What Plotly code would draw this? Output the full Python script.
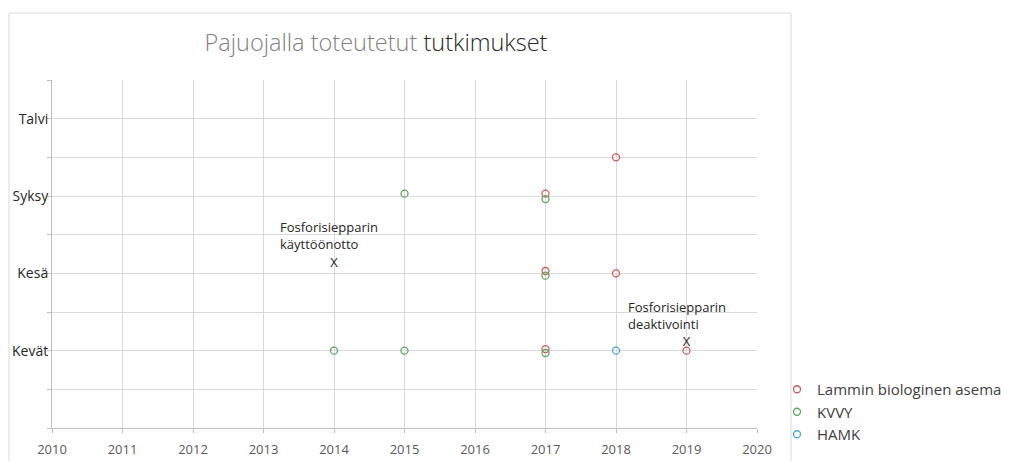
import plotly.graph_objects as go

# Data
season_vals = [1, 2, 3, 4]
season_labels = ["Kevät", "Kesä", "Syksy", "Talvi"]

lammi_years = [2017, 2017, 2017, 2018, 2018, 2019]
lammi_levels = [3.03, 2.03, 1.02, 3.5, 2.0, 1.0]

kvvy_years = [2014, 2015, 2015, 2017, 2017, 2017]
kvvy_levels = [1.0, 1.0, 3.03, 2.96, 1.97, 0.97]

hamk_years = [2018]
hamk_levels = [1.0]

event_years = [2014, 2019]
event_levels = [2.13, 1.1]
event_labels = ["Fosforisiepparin<br>käyttöönotto", "Fosforisiepparin<br>deaktivointi"]
event_shift = [-56, -61]

FONT = "Open Sans"

fig = go.Figure()

def add_series(name, xs, ys, color):
    fig.add_trace(go.Scatter(
        x=xs, y=ys, mode="markers", name=name,
        marker=dict(symbol="circle-open", size=7, color=color, line=dict(width=1.3, color=color)),
    ))

add_series("Lammin biologinen asema", lammi_years, lammi_levels, "#d05a5a")
add_series("KVVY", kvvy_years, kvvy_levels, "#5aa65a")
add_series("HAMK", hamk_years, hamk_levels, "#4aa8d8")

fig.add_trace(go.Scatter(
    x=event_years, y=event_levels, mode="text", text=["X"] * len(event_years),
    textfont=dict(family=FONT, size=13, color="#262626"), showlegend=False, hoverinfo="skip",
))

annotations = []
for x, y, lab, sh in zip(event_years, event_levels, event_labels, event_shift):
    annotations.append(dict(
        x=x, y=y, xref="x", yref="y", text=lab, showarrow=False,
        xanchor="left", yanchor="bottom", align="left", xshift=sh, yshift=8,
        font=dict(family=FONT, size=13, color="#262626"),
    ))

fig.update_layout(
    width=1032, height=461,
    paper_bgcolor="white", plot_bgcolor="white",
    margin=dict(l=52, r=275, t=80, b=33, autoexpand=False),
    title=dict(
        text="<span style='color:#7f7f7f'>Pajuojalla toteutetut </span><span style='color:#262626'>tutkimukset</span>",
        x=376 / 1032, xanchor="center", y=1 - 43 / 461, yanchor="middle",
        font=dict(family=FONT, size=23.5, color="#7f7f7f", weight=300),
    ),
    font=dict(family=FONT, size=12, color="#595959"),
    showlegend=True,
    legend=dict(
        x=(777 - 52) / 705, xanchor="left", y=(428 - 373) / 348, yanchor="top",
        font=dict(family=FONT, size=15, color="#404040"),
        itemwidth=30, tracegroupgap=0, bgcolor="rgba(0,0,0,0)",
    ),
    annotations=annotations,
    shapes=[dict(
        type="rect", xref="paper", yref="paper",
        x0=(9 - 52) / 705, x1=(791 - 52) / 705,
        y0=(428 - 475) / 348, y1=(428 - 13) / 348,
        line=dict(color="#d9d9d9", width=1), fillcolor="rgba(0,0,0,0)", layer="below",
    )],
)

fig.update_xaxes(
    range=[2010, 2020], tick0=2010, dtick=1,
    showgrid=True, gridcolor="#d9d9d9", gridwidth=1,
    showline=True, linecolor="#bfbfbf", linewidth=1,
    ticks="outside", ticklen=4, tickcolor="#bfbfbf", ticklabelstandoff=5,
    tickfont=dict(family=FONT, size=13, color="#595959"),
    zeroline=False, fixedrange=True,
)

grid_vals = [i * 0.5 for i in range(10)]
grid_text = [season_labels[season_vals.index(v)] if v in season_vals else "" for v in grid_vals]

fig.update_yaxes(
    range=[0, 4.5], tickvals=grid_vals, ticktext=grid_text,
    showgrid=True, gridcolor="#d9d9d9", gridwidth=1,
    showline=True, linecolor="#bfbfbf", linewidth=1,
    ticks="outside", ticklen=4, tickcolor="#bfbfbf", ticklabelstandoff=-4,
    tickfont=dict(family=FONT, size=14, color="#262626"),
    zeroline=False, fixedrange=True,
)

fig.write_html("out.html", config={"displayModeBar": False},
               post_script="document.body.style.margin='0px';")
